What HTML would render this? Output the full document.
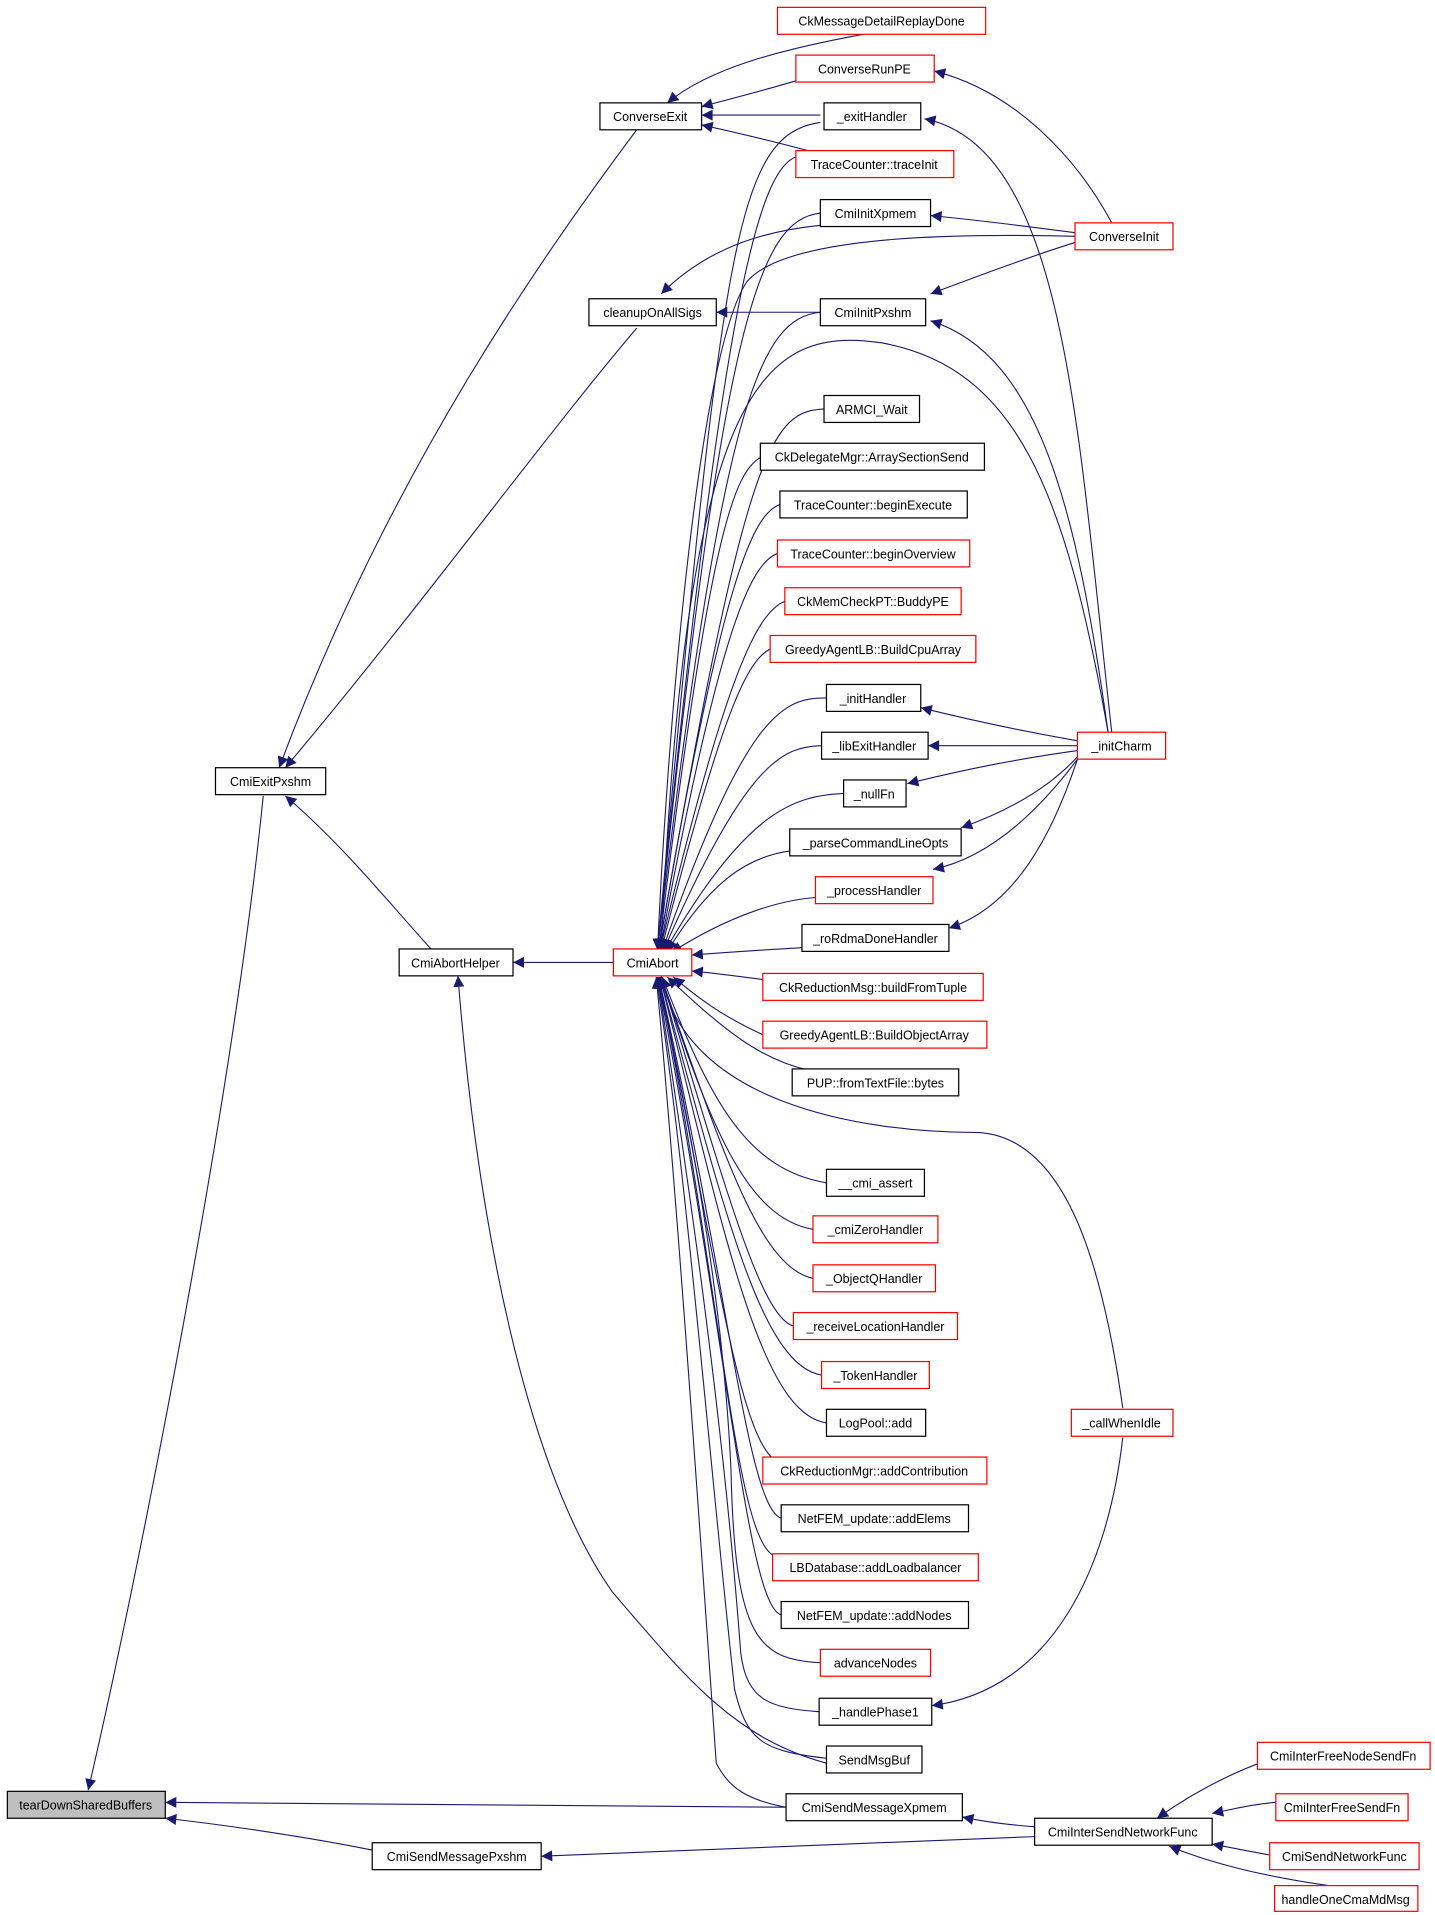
<!DOCTYPE html>
<html><head><meta charset="utf-8"><style>
html,body{margin:0;padding:0;background:#fff;}
svg{display:block}
text{font-family:"Liberation Sans",sans-serif;font-size:10.2px;text-anchor:middle;fill:#000}
.b{fill:#fff;stroke:#000;stroke-width:1}
.r{fill:#fff;stroke:#f00;stroke-width:1}
.e{fill:none;stroke:#191970;stroke-width:0.9}
</style></head><body>
<svg width="1435" height="1915" viewBox="0 0 1172 1564" xmlns="http://www.w3.org/2000/svg">
<defs><marker id="a" viewBox="0 0 10 10" refX="10" refY="5" markerWidth="11" markerHeight="9" markerUnits="userSpaceOnUse" orient="auto"><path d="M0,0L10,5L0,10z" fill="#191970"/></marker></defs>
<g class="e" marker-end="url(#a)">
<path d="M705,28 C640,40 580,55 545,84"/>
<path d="M650,66 C630,72 600,80 573,87"/>
<path d="M670,94 L573,94"/>
<path d="M660,123 C630,115 600,108 573,102"/>
<path d="M908,182 C880,130 830,75 763,58"/>
<path d="M878,190 C840,185 800,180 760,176"/>
<path d="M878,198 C840,210 800,225 760,240"/>
<path d="M878,193 C760,190 640,195 610,230 C570,290 545,600 537,776"/>
<path d="M908,598 C880,350 870,120 755,97"/>
<path d="M905,598 C880,420 850,290 760,262"/>
<path d="M905,598 C870,400 830,300 720,280 C620,265 560,320 540,776"/>
<path d="M880,605 C840,598 800,590 752,578"/>
<path d="M880,609 L758,609"/>
<path d="M880,613 C830,620 790,628 741,640"/>
<path d="M880,618 C860,640 830,660 785,676"/>
<path d="M880,620 C850,660 810,700 762,710"/>
<path d="M880,620 C860,680 830,740 775,758"/>
<path d="M917,1150 C900,1030 870,930 800,925 C700,925 560,900 540,797"/>
<path d="M917,1174 C905,1280 860,1380 761,1393"/>
<path d="M670,184 C610,190 570,210 540,240"/>
<path d="M670,255 L585,255"/>
<path d="M520,106 C450,200 320,380 228,627"/>
<path d="M520,268 C450,350 340,500 233,627"/>
<path d="M352,775 C320,740 280,690 233,650"/>
<path d="M501,786 L419,786"/>
<path d="M675,1440 C600,1420 560,1370 500,1300 C430,1200 390,1000 374,797"/>
<path d="M215,650 C190,900 110,1300 72,1462"/>
<path d="M642,1476 L135,1472"/>
<path d="M304,1511 C250,1500 180,1490 135,1485"/>
<path d="M845,1492 C820,1490 800,1487 786,1484"/>
<path d="M845,1500 C700,1505 560,1512 442,1516"/>
<path d="M1066,1428 C1020,1440 980,1460 945,1485"/>
<path d="M1042,1472 C1020,1474 1010,1477 990,1481"/>
<path d="M1037,1515 C1020,1512 1005,1509 990,1506"/>
<path d="M1085,1540 C1030,1532 990,1522 955,1508"/>
<path d="M670,100 C600,110 590,200 537,776"/>
<path d="M650,128 C620,140 590,240 537,776"/>
<path d="M670,174 C620,180 590,260 537,776"/>
<path d="M670,255 C620,260 590,330 537,776"/>
<path d="M675,334 C630,335 610,360 538,776"/>
<path d="M622,373 C600,385 580,430 538,776"/>
<path d="M637,412 C615,420 590,470 538,776"/>
<path d="M635,452 C615,460 590,500 539,776"/>
<path d="M641,491 C620,500 595,540 539,776"/>
<path d="M629,530 C610,540 590,580 540,776"/>
<path d="M675,570 C640,570 610,580 541,776"/>
<path d="M671,609 C640,610 610,620 542,776"/>
<path d="M689,648 C650,650 610,660 543,777"/>
<path d="M645,695 C610,700 580,720 545,777"/>
<path d="M666,733 C640,735 600,745 548,778"/>
<path d="M655,774 C620,776 590,778 565,780"/>
<path d="M623,800 C600,797 585,795 565,793"/>
<path d="M623,845 C590,830 570,815 550,798"/>
<path d="M660,874 C620,865 590,840 545,798"/>
<path d="M675,966 C610,955 580,900 541,798"/>
<path d="M664,1004 C610,995 580,920 540,798"/>
<path d="M664,1044 C620,1035 590,940 540,798"/>
<path d="M648,1083 C620,1075 590,960 540,798"/>
<path d="M671,1123 C620,1115 590,980 539,798"/>
<path d="M675,1162 C620,1155 590,1000 539,798"/>
<path d="M630,1190 C600,1160 580,1000 538,798"/>
<path d="M638,1240 C610,1230 595,1050 538,798"/>
<path d="M631,1270 C600,1250 590,1060 538,798"/>
<path d="M638,1319 C610,1310 595,1100 537,798"/>
<path d="M670,1358 C620,1355 600,1340 597,1200 C590,1050 560,900 537,798"/>
<path d="M669,1398 C630,1395 610,1390 605,1350 C590,1150 560,950 537,798"/>
<path d="M675,1436 C620,1430 610,1420 600,1380 C580,1200 560,950 536,798"/>
<path d="M642,1476 C610,1470 595,1460 585,1440 C575,1300 555,1000 536,798"/>
</g>
<g>
<rect class="r" x="635" y="6" width="170" height="22"/><text x="720" y="21">CkMessageDetailReplayDone</text>
<rect class="r" x="650" y="45" width="113" height="22"/><text x="706" y="60">ConverseRunPE</text>
<rect class="b" x="490" y="84" width="83" height="22"/><text x="531" y="99">ConverseExit</text>
<rect class="b" x="673" y="84" width="79" height="22"/><text x="712" y="99">_exitHandler</text>
<rect class="r" x="650" y="123" width="129" height="22"/><text x="714" y="138">TraceCounter::traceInit</text>
<rect class="b" x="670" y="163" width="90" height="22"/><text x="715" y="178">CmiInitXpmem</text>
<rect class="r" x="878" y="182" width="80" height="22"/><text x="918" y="197">ConverseInit</text>
<rect class="b" x="481" y="244" width="104" height="22"/><text x="533" y="259">cleanupOnAllSigs</text>
<rect class="b" x="670" y="244" width="86" height="22"/><text x="713" y="259">CmiInitPxshm</text>
<rect class="b" x="673" y="323" width="78" height="22"/><text x="712" y="338">ARMCI_Wait</text>
<rect class="b" x="621" y="362" width="183" height="22"/><text x="712" y="377">CkDelegateMgr::ArraySectionSend</text>
<rect class="b" x="637" y="401" width="153" height="22"/><text x="713" y="416">TraceCounter::beginExecute</text>
<rect class="r" x="635" y="441" width="157" height="22"/><text x="713" y="456">TraceCounter::beginOverview</text>
<rect class="r" x="641" y="480" width="144" height="22"/><text x="713" y="495">CkMemCheckPT::BuddyPE</text>
<rect class="r" x="629" y="519" width="168" height="22"/><text x="713" y="534">GreedyAgentLB::BuildCpuArray</text>
<rect class="b" x="675" y="559" width="77" height="22"/><text x="713" y="574">_initHandler</text>
<rect class="b" x="671" y="598" width="87" height="22"/><text x="714" y="613">_libExitHandler</text>
<rect class="r" x="880" y="598" width="72" height="22"/><text x="916" y="613">_initCharm</text>
<rect class="b" x="689" y="637" width="51" height="22"/><text x="714" y="652">_nullFn</text>
<rect class="b" x="176" y="627" width="90" height="22"/><text x="221" y="642">CmiExitPxshm</text>
<rect class="b" x="645" y="677" width="140" height="22"/><text x="715" y="692">_parseCommandLineOpts</text>
<rect class="r" x="666" y="716" width="96" height="22"/><text x="714" y="731">_processHandler</text>
<rect class="b" x="655" y="755" width="120" height="22"/><text x="715" y="770">_roRdmaDoneHandler</text>
<rect class="b" x="326" y="775" width="93" height="22"/><text x="372" y="790">CmiAbortHelper</text>
<rect class="r" x="501" y="775" width="64" height="22"/><text x="533" y="790">CmiAbort</text>
<rect class="r" x="623" y="795" width="180" height="22"/><text x="713" y="810">CkReductionMsg::buildFromTuple</text>
<rect class="r" x="623" y="834" width="183" height="22"/><text x="714" y="849">GreedyAgentLB::BuildObjectArray</text>
<rect class="b" x="647" y="873" width="136" height="22"/><text x="715" y="888">PUP::fromTextFile::bytes</text>
<rect class="b" x="675" y="955" width="80" height="22"/><text x="715" y="970">__cmi_assert</text>
<rect class="r" x="664" y="993" width="102" height="22"/><text x="715" y="1008">_cmiZeroHandler</text>
<rect class="r" x="664" y="1033" width="100" height="22"/><text x="714" y="1048">_ObjectQHandler</text>
<rect class="r" x="648" y="1072" width="134" height="22"/><text x="715" y="1087">_receiveLocationHandler</text>
<rect class="r" x="671" y="1112" width="88" height="22"/><text x="715" y="1127">_TokenHandler</text>
<rect class="b" x="675" y="1151" width="81" height="22"/><text x="715" y="1166">LogPool::add</text>
<rect class="r" x="875" y="1151" width="83" height="22"/><text x="916" y="1166">_callWhenIdle</text>
<rect class="r" x="623" y="1190" width="183" height="22"/><text x="714" y="1205">CkReductionMgr::addContribution</text>
<rect class="b" x="638" y="1229" width="153" height="22"/><text x="714" y="1244">NetFEM_update::addElems</text>
<rect class="r" x="631" y="1269" width="168" height="22"/><text x="715" y="1284">LBDatabase::addLoadbalancer</text>
<rect class="b" x="638" y="1308" width="153" height="22"/><text x="714" y="1323">NetFEM_update::addNodes</text>
<rect class="r" x="670" y="1347" width="90" height="22"/><text x="715" y="1362">advanceNodes</text>
<rect class="b" x="669" y="1387" width="92" height="22"/><text x="715" y="1402">_handlePhase1</text>
<rect class="b" x="675" y="1426" width="78" height="22"/><text x="714" y="1441">SendMsgBuf</text>
<rect fill="#bfbfbf" stroke="#000" x="6" y="1463" width="129" height="22"/><text x="70" y="1478">tearDownSharedBuffers</text>
<rect class="b" x="642" y="1465" width="144" height="22"/><text x="714" y="1480">CmiSendMessageXpmem</text>
<rect class="b" x="845" y="1485" width="145" height="22"/><text x="917" y="1500">CmiInterSendNetworkFunc</text>
<rect class="b" x="304" y="1505" width="138" height="22"/><text x="373" y="1520">CmiSendMessagePxshm</text>
<rect class="r" x="1027" y="1423" width="141" height="22"/><text x="1097" y="1438">CmiInterFreeNodeSendFn</text>
<rect class="r" x="1042" y="1465" width="108" height="22"/><text x="1096" y="1480">CmiInterFreeSendFn</text>
<rect class="r" x="1037" y="1505" width="122" height="22"/><text x="1098" y="1520">CmiSendNetworkFunc</text>
<rect class="r" x="1041" y="1540" width="117" height="21"/><text x="1099" y="1555">handleOneCmaMdMsg</text>
</g>
</svg>
</body></html>
